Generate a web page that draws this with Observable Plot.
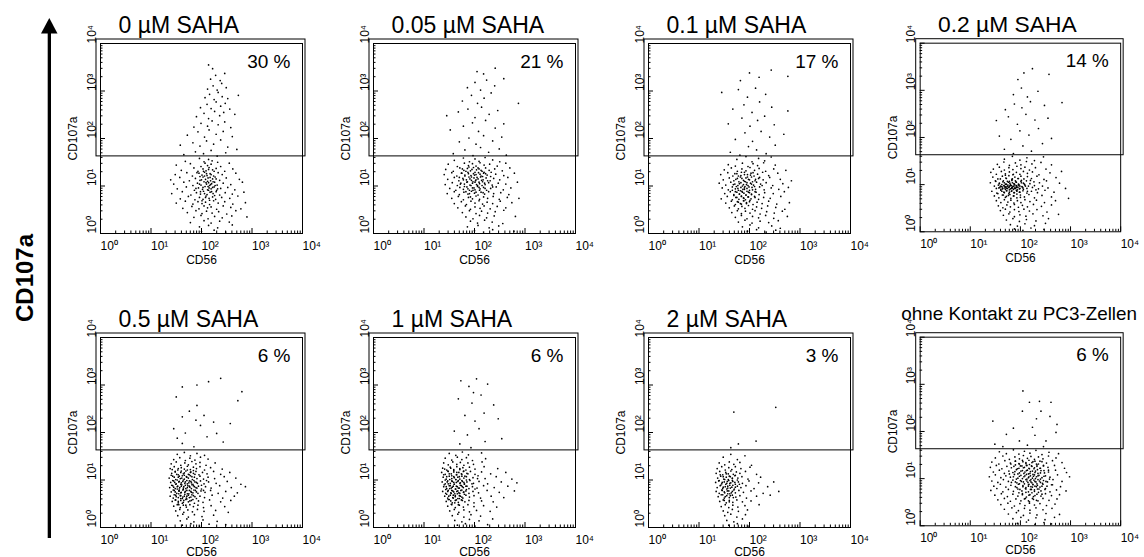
<!DOCTYPE html>
<html><head><meta charset="utf-8">
<script src="https://cdn.jsdelivr.net/npm/d3@7"></script>
<script src="https://cdn.jsdelivr.net/npm/@observablehq/plot@0.6"></script>
<style>
html,body{margin:0;padding:0;background:#fff;}
#fig{position:relative;width:1144px;height:557px;overflow:hidden;background:#fff;font-family:"Liberation Sans",Arial,sans-serif;}
.panel{position:absolute;}
.panel svg{overflow:visible;}
</style></head><body>
<div id="fig">
<svg id="side" width="70" height="557" style="position:absolute;left:0;top:0">
  <text transform="translate(33,278) rotate(-90)" text-anchor="middle" font-family="Liberation Sans, Arial, sans-serif" font-weight="bold" font-size="24" fill="#000">CD107a</text>
  <rect x="47.7" y="30" width="3.3" height="508" fill="#000"/>
  <polygon points="41,33.5 57.5,33.5 49.3,18" fill="#000"/>
</svg>
</div>
<script>
// ---- data ----
const panelTitles = ["0 µM SAHA","0.05 µM SAHA","0.1 µM SAHA","0.2 µM SAHA","0.5 µM SAHA","1 µM SAHA","2 µM SAHA","ohne Kontakt zu PC3-Zellen"];
const gatedPercent = ["30 %","21 %","17 %","14 %","6 %","6 %","3 %","6 %"];
const decadeTicks = [1,10,100,1000,10000];
const decadeLabels = ["10⁰","10¹","10²","10³","10⁴"];
const minorTicks = [2,3,4,5,6,7,8,9,20,30,40,50,60,70,80,90,200,300,400,500,600,700,800,900,2000,3000,4000,5000,6000,7000,8000,9000];
const gateCD107a = 42;
const xLabel = "CD56";
const yLabel = "CD107a";

// events: "log10(CD56)*100 log10(CD107a)*100"
const cells0 = `168 152, 196 158, 205 151, 214 156, 221 153, 232 150,
150 144, 178 147, 199 141, 207 148, 212 143, 219 146, 238 141, 255 148,
160 133, 185 138, 193 131, 203 136, 209 132, 215 139, 222 134, 229 137, 246 131, 262 136,
148 124, 171 128, 182 121, 195 127, 201 123, 206 129, 211 122, 217 126, 224 121, 233 128, 241 124, 268 127,
139 113, 157 118, 176 111, 188 116, 197 112, 203 119, 208 114, 213 117, 218 111, 222 115, 227 119, 236 112, 249 117, 275 114,
145 104, 165 108, 183 101, 192 106, 199 102, 205 109, 210 104, 214 107, 216 101, 220 105, 226 108, 231 102, 243 106, 258 103, 281 108,
152 94, 170 98, 186 91, 194 96, 202 93, 207 99, 212 92, 215 96, 219 94, 225 98, 230 91, 238 95, 252 97, 266 92,
141 84, 162 88, 179 81, 190 86, 198 83, 204 89, 211 82, 217 87, 223 84, 229 88, 236 81, 247 86, 261 83, 284 87,
158 73, 174 78, 187 71, 196 76, 203 72, 209 79, 215 74, 222 77, 228 72, 240 76, 256 74, 272 79,
150 64, 168 68, 183 62, 193 67, 201 63, 208 66, 216 61, 224 69, 233 64, 246 67, 262 62, 287 65,
163 53, 181 57, 195 52, 205 58, 212 54, 219 56, 230 51, 243 58, 258 55, 278 52,
172 44, 189 48, 201 42, 210 47, 221 43, 234 46, 250 41, 268 48,
185 34, 199 38, 213 31, 226 36, 241 33, 260 37, 290 35,
178 23, 205 27, 219 22, 236 26, 255 24,
196 14, 214 17, 232 12, 261 18,
200 4, 225 7, 248 3,
165 166, 188 172, 204 168, 219 175, 231 163, 248 170, 270 177,
158 186, 183 191, 197 184, 210 195, 224 188, 238 197, 252 182,
172 207, 193 214, 206 203, 215 218, 229 209, 243 215, 261 204,
185 224, 199 232, 212 226, 221 237, 233 229, 246 235, 258 223,
190 246, 205 253, 214 242, 226 257, 236 248, 244 255, 266 251,
198 265, 211 272, 219 263, 229 277, 238 268, 247 274, 256 262,
207 286, 216 293, 225 282, 233 297, 241 288, 252 284, 273 291,
212 304, 223 311, 231 302, 240 316, 249 307,
218 325, 228 333, 237 322, 246 337,
222 347, 214 355`;
const cells0core = `191 128, 197 120, 204 131, 210 126, 214 135, 219 124, 225 131, 200 113, 206 121, 212 110, 217 118, 223 109, 229 115, 196 104, 203 97, 209 107, 213 99, 218 103, 222 97, 227 101, 189 95, 198 88, 206 84, 214 91, 220 88, 226 80, 208 76, 216 70, 201 69, 232 94`;

const cells005 = `160 154, 178 159, 190 151, 201 157, 209 152, 221 160, 236 155, 250 151,
148 146, 166 141, 180 148, 188 143, 196 147, 203 142, 211 149, 219 144, 230 146, 245 142, 262 148,
143 135, 158 131, 171 138, 179 133, 186 137, 192 132, 198 139, 204 134, 209 136, 215 131, 222 138, 229 133, 240 136, 255 132, 270 138,
140 124, 155 128, 165 121, 174 127, 181 123, 187 129, 193 122, 198 126, 203 124, 208 128, 213 121, 218 127, 225 123, 233 129, 242 125, 258 122, 279 127,
147 114, 160 118, 169 111, 177 116, 184 113, 189 119, 194 112, 199 117, 202 111, 207 115, 212 119, 217 113, 223 117, 231 111, 238 116, 250 113, 266 118,
142 103, 156 107, 166 101, 173 106, 180 104, 186 109, 191 102, 196 106, 201 108, 206 101, 210 105, 216 109, 221 103, 228 107, 235 102, 247 106, 262 104, 285 108,
151 95, 163 91, 171 97, 178 93, 185 98, 190 91, 196 96, 201 92, 206 99, 211 94, 218 97, 224 91, 232 95, 243 98, 257 92, 272 96,
146 84, 160 88, 170 82, 179 87, 187 83, 194 89, 200 85, 207 81, 213 87, 220 83, 228 88, 238 84, 252 86, 268 82,
155 74, 168 78, 178 71, 188 76, 196 73, 203 79, 210 72, 218 77, 226 74, 237 78, 249 72, 265 76, 288 74,
160 63, 174 67, 184 61, 193 68, 201 64, 209 69, 216 62, 225 66, 236 63, 251 68, 274 65,
167 54, 182 58, 192 51, 201 56, 211 53, 219 58, 231 52, 245 57, 262 54,
176 44, 190 48, 203 42, 214 47, 226 43, 241 46, 258 49,
183 35, 197 31, 210 38, 224 33, 239 37, 281 36,
192 26, 206 22, 220 28, 235 24, 256 21,
186 14, 207 17, 229 12, 248 16,
200 6, 218 3, 236 8, 278 5,
158 168, 181 176, 197 164, 212 181, 228 171, 249 178, 263 165,
170 193, 189 201, 203 188, 218 206, 236 195, 254 203,
152 218, 178 226, 196 233, 208 215, 222 238, 241 222, 258 231,
145 248, 168 256, 187 262, 201 244, 214 266, 229 251, 246 259,
176 279, 194 291, 206 274, 219 285, 233 296, 287 274,
186 307, 201 318, 212 302, 224 323, 240 311, 258 326,
205 341, 218 336, 241 348`;
const cells005core = `176 136, 183 131, 189 140, 195 135, 201 129, 207 138, 213 133, 219 129, 181 121, 188 126, 194 119, 200 123, 205 118, 211 125, 216 120, 222 126, 178 113, 185 108, 191 115, 197 109, 203 113, 209 108, 214 112, 220 106, 226 111, 180 99, 187 94, 193 101, 199 96, 204 103, 209 97, 215 101, 221 95, 183 88, 190 84, 197 91, 203 87, 210 91, 217 86, 175 127, 170 118, 172 104, 232 120, 236 98, 192 77`;

const cells01 = `175 156, 193 162, 205 151, 218 158, 230 153, 243 161,
158 145, 172 142, 186 148, 197 141, 207 147, 216 143, 228 149, 251 144,
150 134, 164 138, 176 131, 185 136, 193 132, 201 139, 210 133, 219 137, 232 131, 248 136, 272 133,
143 124, 157 128, 167 121, 175 126, 183 122, 190 129, 196 124, 203 127, 209 121, 216 125, 226 129, 238 122, 256 127,
148 113, 160 117, 169 111, 176 116, 182 119, 188 112, 193 117, 198 114, 204 119, 211 111, 218 116, 227 113, 240 118, 261 114, 283 111,
140 106, 153 102, 163 108, 171 104, 177 101, 183 107, 188 103, 192 109, 197 101, 202 106, 208 102, 214 108, 222 104, 233 107, 246 101, 266 105,
146 96, 158 92, 166 98, 172 94, 178 91, 183 97, 187 93, 191 99, 195 95, 200 91, 205 97, 212 93, 220 98, 229 92, 243 96, 258 93, 277 97,
151 84, 162 88, 169 82, 175 87, 180 83, 185 89, 189 85, 193 81, 198 87, 204 83, 211 88, 219 82, 230 86, 247 84, 269 88,
144 73, 156 78, 166 71, 173 76, 179 72, 184 79, 188 75, 192 71, 197 77, 203 73, 210 78, 218 72, 228 76, 241 74, 262 78,
153 64, 164 68, 172 61, 178 66, 184 62, 189 69, 194 63, 200 67, 207 61, 215 66, 225 63, 238 68, 254 62, 279 65,
160 54, 170 58, 178 52, 185 57, 191 53, 198 59, 206 51, 214 56, 224 53, 236 58, 252 55, 270 51,
165 44, 176 48, 184 42, 192 47, 201 43, 211 48, 221 41, 234 46, 249 43, 265 47,
172 34, 184 38, 195 31, 206 36, 218 33, 232 38, 248 32, 275 36,
178 24, 191 28, 205 22, 221 26, 238 23, 257 27,
186 14, 201 18, 218 12, 244 16, 261 11,
196 5, 214 8, 233 3, 252 7,
162 171, 181 165, 198 183, 214 176, 233 168, 251 186,
172 198, 191 212, 206 194, 223 215, 240 203, 268 209,
158 231, 185 243, 201 226, 216 238, 230 247, 249 229,
167 262, 189 271, 205 255, 220 277, 244 266, 276 258,
145 297, 178 303, 196 287, 212 306, 232 293,
182 322, 200 338, 219 329, 243 344, 276 331`;
const cells01core = `171 126, 178 121, 184 129, 190 124, 196 119, 202 123, 207 128, 173 114, 179 109, 185 116, 190 110, 195 107, 200 113, 206 109, 212 114, 168 103, 174 99, 180 105, 186 100, 190 96, 194 103, 199 98, 204 104, 210 99, 166 91, 172 88, 177 95, 182 90, 186 87, 190 93, 195 89, 200 86, 206 92, 213 87, 169 80, 175 76, 180 83, 184 78, 189 74, 193 81, 198 77, 204 82, 211 76, 176 67, 182 63, 188 69, 194 65, 201 70, 220 118, 225 101`;

const cells02 = `168 154, 184 160, 199 152, 213 157, 228 151, 246 159,
154 143, 167 148, 178 141, 190 146, 201 142, 212 149, 223 144, 241 147, 262 142,
146 133, 158 137, 168 131, 177 136, 185 132, 193 139, 201 134, 209 137, 218 131, 230 136, 251 133,
141 126, 152 122, 162 128, 170 123, 178 127, 185 121, 192 126, 199 122, 206 128, 214 124, 224 127, 237 121, 259 125, 282 128,
145 116, 155 112, 164 118, 171 114, 177 119, 183 111, 189 116, 195 113, 201 118, 207 112, 214 117, 222 113, 233 118, 247 111, 271 115,
140 104, 150 108, 158 102, 165 106, 170 101, 174 107, 179 103, 183 109, 187 102, 191 106, 196 101, 201 107, 206 103, 212 108, 219 102, 227 106, 238 104, 252 108, 278 103,
148 97, 156 99, 162 96, 167 98, 171 96, 175 99, 178 97, 182 98, 185 96, 189 99, 193 97, 197 98, 203 96, 209 99, 216 97,
152 92, 159 94, 164 91, 169 93, 173 92, 177 94, 180 91, 184 93, 188 92, 192 94, 198 91, 205 93, 213 92, 224 94, 236 91, 255 93, 290 92,
143 86, 153 82, 161 88, 167 84, 172 87, 177 81, 182 86, 187 83, 192 88, 198 84, 205 87, 213 82, 222 86, 234 83, 249 88, 267 84,
148 76, 157 72, 164 78, 170 73, 176 77, 181 71, 187 76, 193 72, 200 78, 208 74, 217 79, 228 72, 243 77, 262 74, 296 71,
152 66, 161 62, 168 68, 175 63, 181 67, 187 61, 194 66, 201 62, 209 68, 219 64, 232 67, 248 62, 270 66,
156 55, 165 51, 173 57, 180 53, 188 58, 196 52, 204 56, 214 53, 226 58, 242 54, 262 57,
160 45, 170 48, 179 42, 188 47, 197 43, 207 48, 218 44, 233 47, 253 42,
166 35, 177 38, 188 32, 199 36, 211 33, 225 38, 245 34, 276 37,
172 25, 185 28, 198 22, 212 26, 231 23, 256 28,
180 15, 194 12, 209 17, 228 13, 250 18,
188 6, 205 3, 221 8, 247 5,
168 175, 186 166, 205 182, 222 171, 244 187,
158 203, 181 196, 199 214, 217 205, 236 219, 262 198,
152 236, 176 244, 194 228, 211 249, 229 237, 255 241,
170 259, 188 271, 203 263, 220 276, 248 268, 283 274,
186 291, 202 305, 214 286, 235 298,
195 323, 207 337, 224 346, 257 334`;
const cells02core = `160 112, 166 108, 172 113, 178 107, 184 112, 190 108, 196 113, 202 109, 158 103, 163 100, 168 104, 172 101, 176 105, 180 100, 184 104, 188 101, 192 105, 197 100, 202 104, 208 101, 160 97, 164 95, 168 97, 171 94, 174 97, 177 95, 180 98, 183 94, 186 97, 189 95, 192 98, 195 94, 199 97, 204 95, 210 97, 157 93, 161 90, 165 92, 170 90, 174 92, 178 89, 182 92, 186 90, 190 92, 194 89, 199 92, 206 90, 163 86, 168 83, 173 87, 178 84, 183 87, 188 83, 193 86, 199 84, 166 78, 172 75, 179 79, 186 76, 193 80, 200 73, 214 86, 220 109, 228 98, 231 89, 244 97, 155 81, 151 107, 170 120, 186 122`;

const cells05 = `152 154, 166 158, 178 151, 191 156, 206 152,
145 143, 157 147, 168 141, 177 146, 187 142, 198 148, 213 144,
140 134, 150 138, 159 131, 167 136, 174 132, 181 139, 189 134, 197 137, 209 131, 227 136,
138 124, 146 128, 153 121, 160 126, 166 123, 172 129, 178 122, 184 127, 190 124, 197 128, 206 121, 218 126, 241 123,
141 114, 148 118, 154 111, 159 116, 164 113, 169 119, 174 112, 179 117, 184 114, 189 118, 195 111, 202 116, 211 113, 224 118, 238 112, 256 116,
136 104, 143 108, 149 101, 154 106, 158 103, 162 109, 166 102, 170 107, 174 104, 178 109, 182 101, 186 106, 191 103, 197 108, 204 102, 213 106, 226 103, 245 107, 268 104,
139 95, 145 98, 150 92, 155 96, 159 91, 163 97, 167 93, 171 99, 175 94, 179 97, 183 91, 187 96, 192 93, 198 98, 205 92, 214 96, 229 93, 251 97, 278 91,
137 84, 143 88, 148 82, 152 86, 156 81, 160 87, 164 83, 168 89, 172 84, 176 87, 180 82, 184 88, 189 84, 194 87, 200 81, 208 86, 219 83, 236 88, 259 84, 287 86,
140 75, 146 78, 151 72, 155 77, 159 73, 163 79, 167 74, 171 78, 175 71, 179 76, 183 73, 188 78, 193 72, 199 77, 207 74, 218 78, 233 72, 248 76, 271 73,
138 66, 144 62, 149 68, 154 63, 158 67, 162 61, 166 66, 170 62, 174 68, 179 64, 184 67, 190 61, 197 66, 206 63, 221 68, 242 62, 265 66,
142 55, 148 58, 154 52, 159 57, 164 53, 169 59, 174 54, 180 57, 186 51, 194 56, 203 53, 216 58, 238 54, 258 57,
145 45, 152 48, 158 42, 164 47, 170 43, 177 48, 184 44, 193 47, 204 42, 219 46, 246 44,
149 35, 157 38, 165 32, 173 37, 182 33, 192 38, 205 34, 228 36, 253 32,
153 25, 163 28, 174 22, 186 27, 201 23, 224 26,
158 14, 171 18, 185 12, 203 16, 231 13,
162 5, 179 8, 196 3, 215 7, 248 6,
162 296, 191 300, 214 307, 238 314, 150 275, 280 286, 191 257, 272 267, 145 208, 162 233, 198 215, 224 222,
257 219, 243 180, 162 177, 211 191, 185 170, 176 245, 205 236, 230 198, 168 199, 152 188, 189 226`;
const cells05core = `142 122, 148 117, 154 124, 160 119, 166 115, 172 121, 178 116, 184 120, 140 110, 146 106, 151 112, 156 108, 161 104, 166 110, 171 106, 176 111, 181 107, 187 112, 143 99, 147 95, 152 100, 156 97, 160 94, 164 100, 168 96, 172 92, 176 98, 180 94, 185 99, 190 95, 141 89, 145 85, 149 91, 153 87, 157 84, 161 90, 165 86, 169 82, 173 88, 177 85, 181 90, 186 86, 191 83, 144 79, 148 75, 152 81, 156 77, 160 74, 164 80, 168 76, 172 71, 176 78, 180 74, 185 79, 190 75, 146 69, 150 65, 155 71, 159 67, 163 64, 167 70, 171 66, 176 63, 181 69, 187 65, 149 58, 154 55, 159 61, 165 57, 171 60, 177 56, 183 59, 155 48, 162 51, 169 47, 200 89, 204 78, 210 99`;

const cells1 = `150 156, 163 152, 176 159, 188 153, 214 157,
142 146, 155 142, 166 148, 175 143, 184 147, 196 141, 222 145,
139 136, 148 132, 157 138, 165 133, 172 137, 179 131, 187 136, 198 133, 215 138,
137 125, 145 121, 152 127, 159 122, 165 128, 171 124, 177 126, 183 121, 190 127, 201 123, 219 128, 246 124,
135 116, 142 112, 148 118, 154 113, 159 117, 164 111, 169 116, 174 113, 179 119, 185 114, 192 118, 201 112, 214 117, 232 113, 262 116,
138 106, 144 102, 150 108, 155 103, 159 107, 163 101, 167 106, 171 102, 175 108, 179 104, 184 107, 190 101, 197 105, 207 109, 221 103, 243 107, 274 102,
136 96, 142 92, 147 98, 152 93, 156 97, 160 91, 164 95, 168 99, 172 94, 176 97, 180 92, 185 96, 191 99, 198 93, 209 97, 226 92, 253 96, 284 94,
139 86, 145 82, 150 88, 154 83, 158 87, 162 81, 166 86, 170 83, 174 88, 178 84, 183 87, 189 82, 196 86, 205 83, 218 88, 239 84, 266 87,
137 76, 143 72, 148 78, 153 73, 157 77, 161 71, 165 76, 169 73, 173 78, 178 74, 183 77, 189 72, 197 76, 208 73, 225 78, 249 74, 279 77,
141 66, 147 62, 152 68, 157 63, 162 67, 167 61, 172 66, 177 62, 183 68, 190 64, 199 67, 212 62, 233 66, 258 63,
144 55, 150 59, 156 52, 162 57, 168 53, 174 58, 181 54, 189 57, 199 52, 214 56, 237 54,
147 45, 155 48, 162 42, 170 47, 178 43, 187 48, 199 44, 218 46, 244 43,
151 35, 160 38, 169 32, 179 37, 190 33, 204 36, 231 34,
156 25, 167 28, 179 22, 193 27, 212 24,
161 15, 175 12, 190 17, 209 14, 236 18,
166 5, 182 8, 201 3, 226 6,
173 309, 189 297, 204 313, 226 302, 168 271, 195 262, 213 279, 238 258, 181 236, 201 224,
219 241, 247 229, 160 203, 186 195, 209 208, 171 176, 193 168, 221 181, 254 187, 198 284`;
const cells1core = `141 123, 147 119, 153 125, 159 120, 165 116, 171 122, 178 118, 139 111, 145 107, 150 113, 155 109, 160 105, 165 111, 170 107, 175 112, 181 108, 187 113, 142 100, 146 96, 151 101, 155 98, 159 95, 163 101, 167 97, 171 93, 175 99, 179 95, 184 100, 140 90, 144 86, 148 92, 152 88, 156 85, 160 91, 164 87, 168 83, 172 89, 176 86, 180 91, 185 87, 143 80, 147 76, 151 82, 155 78, 159 75, 163 81, 167 77, 171 72, 175 79, 179 75, 184 80, 145 70, 149 66, 154 72, 158 68, 162 65, 166 71, 170 67, 175 64, 180 70, 148 59, 153 56, 158 62, 164 58, 170 61, 176 57, 154 49, 161 52, 168 48, 195 92, 201 81, 206 103`;

const cells2 = `148 148, 163 154, 176 143, 191 151,
140 136, 151 132, 160 138, 169 133, 181 137, 204 131,
136 124, 145 128, 152 121, 159 126, 165 122, 172 128, 183 124, 201 127,
134 114, 141 118, 147 111, 153 116, 158 113, 163 119, 168 112, 174 117, 181 114, 192 118, 214 112,
137 104, 143 108, 149 102, 154 106, 158 101, 162 107, 166 103, 171 109, 177 104, 185 107, 197 102, 222 106,
133 95, 139 98, 145 92, 150 96, 155 93, 159 99, 163 94, 167 97, 172 91, 178 96, 186 93, 199 98, 218 94, 248 96,
136 84, 142 88, 147 82, 152 86, 157 83, 161 89, 165 85, 170 81, 176 87, 183 84, 193 88, 209 82, 236 86,
134 76, 140 72, 146 78, 151 73, 156 77, 161 71, 166 76, 172 73, 179 78, 188 74, 203 77, 227 72, 258 76,
138 65, 144 69, 150 62, 155 67, 160 63, 166 68, 173 64, 181 67, 194 62, 214 66, 241 68,
141 55, 148 58, 154 52, 160 57, 167 53, 175 58, 186 54, 203 56,
144 44, 152 48, 159 42, 167 47, 177 43, 191 46, 219 48,
148 35, 157 32, 166 38, 178 34, 196 37,
151 25, 163 28, 175 22, 192 27,
155 15, 169 12, 186 18,
159 5, 176 8, 197 3,
169 243, 252 253, 163 168, 213 182, 178 176`;
const cells2core = `142 111, 148 107, 154 113, 160 108, 166 104, 172 110, 140 99, 146 95, 151 101, 156 97, 161 93, 166 99, 171 95, 143 89, 148 85, 153 91, 157 87, 162 83, 167 89, 172 85, 145 79, 150 75, 155 81, 159 77, 164 73, 169 79, 147 69, 152 65, 157 71, 162 67, 168 63, 180 91, 176 100, 150 57, 160 54`;

const cellsNoContact = `158 157, 172 153, 186 161, 197 152, 208 158, 219 154, 231 160, 243 151, 257 156, 276 153,
150 144, 165 148, 178 141, 189 146, 198 142, 206 149, 214 143, 221 147, 228 141, 236 146, 245 142, 256 148, 271 144,
143 135, 157 131, 169 138, 180 133, 190 137, 198 131, 205 136, 211 132, 217 139, 223 134, 229 137, 236 131, 243 136, 252 133, 264 138, 283 134,
140 124, 152 128, 163 121, 173 126, 182 123, 190 129, 197 122, 203 127, 208 124, 213 128, 218 121, 223 126, 228 123, 233 129, 239 122, 246 127, 255 124, 268 128, 288 122,
146 114, 158 118, 168 111, 177 116, 185 113, 192 119, 198 112, 204 117, 209 114, 214 118, 219 111, 224 116, 229 113, 234 119, 240 112, 247 117, 256 114, 270 118, 292 113,
138 104, 150 108, 161 102, 171 106, 180 103, 188 109, 195 101, 201 107, 207 104, 212 109, 216 102, 220 106, 224 101, 228 108, 232 104, 237 107, 243 102, 250 106, 259 103, 274 108, 298 104,
143 95, 155 92, 166 98, 176 94, 185 97, 193 91, 200 96, 206 93, 211 98, 215 92, 219 96, 223 91, 227 97, 231 93, 235 98, 240 92, 246 96, 254 93, 265 98, 283 94,
147 84, 160 88, 171 82, 181 86, 190 83, 198 89, 205 85, 211 81, 216 87, 221 83, 225 88, 229 84, 234 86, 239 82, 245 88, 253 84, 264 87, 280 83,
141 75, 153 79, 165 72, 176 77, 186 73, 195 78, 203 74, 210 79, 216 72, 222 77, 228 73, 234 78, 241 74, 249 77, 259 72, 272 76, 291 74,
149 65, 162 68, 174 62, 185 67, 195 63, 204 68, 212 61, 219 66, 226 62, 233 67, 241 63, 250 68, 262 64, 278 66,
155 55, 168 58, 180 52, 191 57, 201 53, 210 58, 218 51, 226 56, 235 53, 245 58, 257 54, 273 57,
161 45, 175 48, 188 42, 199 47, 209 43, 218 48, 228 44, 239 47, 252 43, 269 46,
168 35, 183 38, 196 32, 208 37, 219 33, 231 38, 245 34, 263 37,
176 25, 192 28, 206 22, 219 27, 233 23, 251 26, 278 24,
185 15, 201 18, 216 12, 231 17, 249 13, 268 18,
194 5, 212 8, 229 3, 247 7, 262 4,
238 264, 218 262, 261 262, 145 222, 273 215, 172 194, 149 173, 271 198, 204 243, 241 243, 224 209,
251 180, 198 180, 232 227, 186 207, 214 171, 259 232, 165 168, 229 192, 205 286, 246 168`;
const cellsNoContactCore = `190 137, 197 132, 204 139, 211 134, 218 130, 225 136, 232 131, 239 137, 187 126, 194 121, 200 127, 206 123, 212 128, 217 122, 222 127, 227 121, 233 126, 240 122, 246 128, 189 115, 195 110, 201 116, 207 111, 212 117, 216 110, 220 115, 225 109, 230 116, 235 111, 241 117, 248 112, 186 104, 192 99, 198 105, 204 100, 209 106, 213 99, 217 104, 221 98, 226 105, 230 100, 235 106, 240 99, 247 105, 190 93, 196 88, 202 94, 208 89, 213 95, 217 88, 221 93, 225 87, 229 94, 233 89, 238 95, 244 90, 251 94, 193 81, 199 77, 205 83, 211 78, 216 84, 220 77, 224 82, 228 76, 232 83, 237 78, 243 84, 250 79, 197 70, 204 66, 211 71, 217 65, 223 70, 229 64, 236 71, 243 67, 208 57, 216 53, 224 58, 232 54, 178 110, 182 92, 256 118, 258 99, 181 131, 262 87`;

const panelCells = [
  [cells0, cells0core], [cells005, cells005core], [cells01, cells01core], [cells02, cells02core],
  [cells05, cells05core], [cells1, cells1core], [cells2, cells2core], [cellsNoContact, cellsNoContactCore]
];

// ---- build ----
function parseCells(s) {
  return s.split(",").map(t => t.trim()).filter(t => t.length).map(t => {
    const [a, b] = t.split(/\s+/).map(Number);
    return {cd56: Math.pow(10, a / 100), cd107a: Math.pow(10, b / 100)};
  });
}
const fmt = d => decadeLabels[decadeTicks.indexOf(d)];

const W = 202, H = 190, ML = 45, MR = 24, MT = 43, MB = 52;
const plotLeft = [100, 373.3, 647.7, 920];
const plotTop = [43, 337];
const fig = document.getElementById("fig");

panelTitles.forEach((title, i) => {
  const r = Math.floor(i / 4), c = i % 4;
  const data = panelCells[i].flatMap(parseCells);
  const long = i === 7;
  const chart = Plot.plot({
    width: ML + W + MR, height: MT + H + MB,
    marginLeft: ML, marginRight: MR, marginTop: MT, marginBottom: MB,
    x: {type: "log", domain: [1, 1e4]},
    y: {type: "log", domain: [1, 1e4]},
    style: {fontFamily: '"Liberation Sans", Arial, sans-serif', fontSize: "12px", color: "#000", background: "transparent", overflow: "visible"},
    marks: [
      Plot.dot(data, {x: "cd56", y: "cd107a", r: 0.85, fill: "#000", stroke: null}),
      Plot.frame({stroke: "#000"}),
      Plot.rect([0], {x1: 1, x2: 1e4, y1: gateCD107a, y2: 1e4, insetLeft: -4, insetRight: -3, insetTop: -4, fill: "none", stroke: "#000"}),
      Plot.tickX(minorTicks, {x: d => d, insetTop: H - 2.5, stroke: "#000"}),
      Plot.tickX(decadeTicks, {x: d => d, insetTop: H - 5, stroke: "#000"}),
      Plot.tickY(minorTicks, {y: d => d, insetRight: W - 2.5, stroke: "#000"}),
      Plot.tickY(decadeTicks, {y: d => d, insetRight: W - 5, stroke: "#000"}),
      Plot.axisX(decadeTicks, {tickSize: 0, tickPadding: 8, textAnchor: "start", tickFormat: fmt, fontSize: 12,
        label: xLabel, labelAnchor: "center", labelOffset: r === 1 ? 28 : 30, labelArrow: "none"}),
      Plot.axisY(decadeTicks, {tickSize: 0, tickPadding: 5, rotate: -90, textAnchor: "start", lineAnchor: "bottom", tickFormat: fmt, fontSize: 12,
        label: yLabel, labelAnchor: "center", labelOffset: 32, labelArrow: "none"}),
      Plot.text([title], {frameAnchor: "top-left", text: d => d, dx: long ? -19 : 18, dy: long ? -17 : -11,
        lineAnchor: "bottom", textAnchor: "start", fontSize: long ? 19 : 23, fill: "#000"}),
      Plot.text([gatedPercent[i]], {frameAnchor: "top-right", text: d => d, dx: -12, dy: 24,
        lineAnchor: "bottom", textAnchor: "end", fontSize: 19, fill: "#000"})
    ]
  });
  const div = document.createElement("div");
  div.className = "panel";
  div.style.left = (plotLeft[c] - ML) + "px";
  div.style.top = (plotTop[r] - MT) + "px";
  div.appendChild(chart);
  fig.appendChild(div);
});
</script>
</body></html>
